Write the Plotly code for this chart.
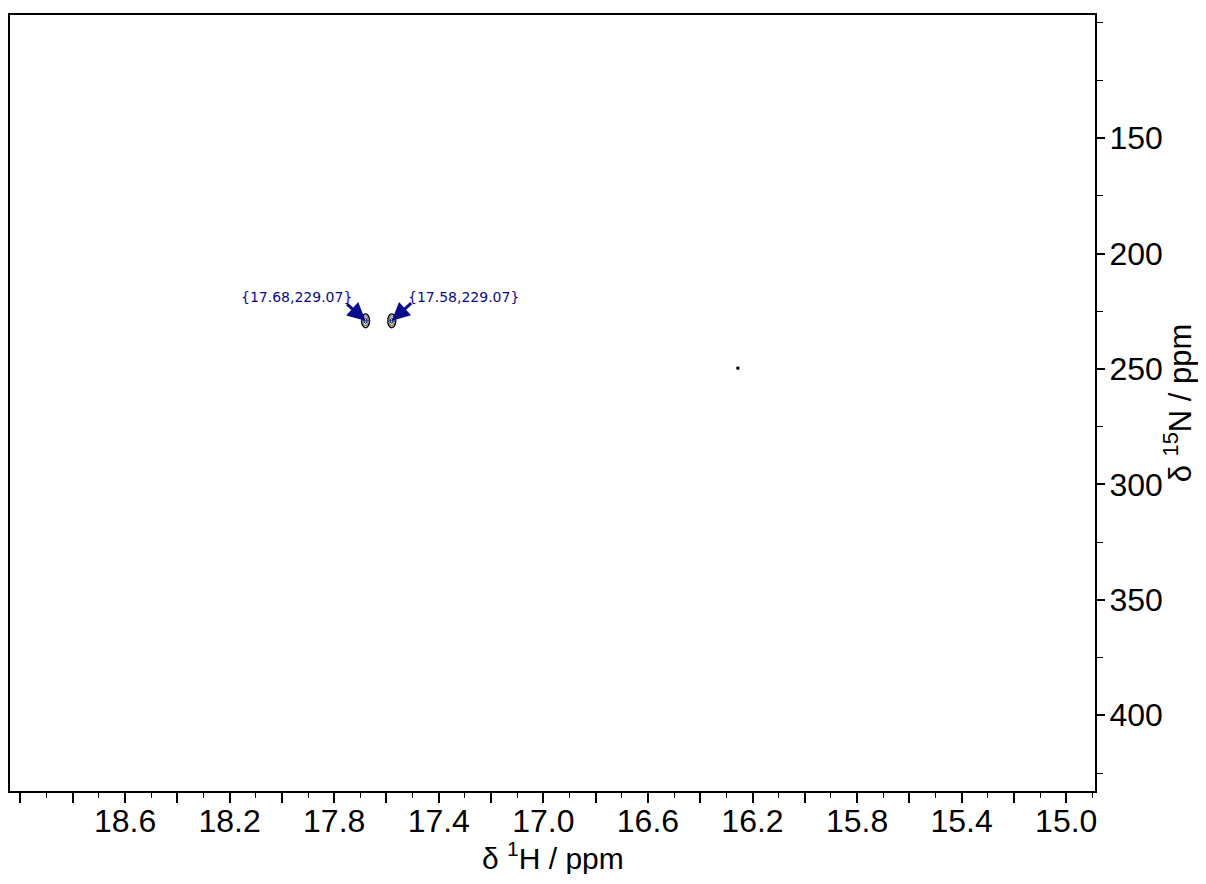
import plotly.graph_objects as go

# Peak data (1H ppm, 15N ppm)
peak_h = [17.68, 17.58]
peak_n = [229.07, 229.07]
label_side = ["left", "right"]

# isolated noise point
dot_h = [16.256]
dot_n = [249.6]

# axis ticks
x_major = [19.0, 18.8, 18.6, 18.4, 18.2, 18.0, 17.8, 17.6, 17.4, 17.2, 17.0,
           16.8, 16.6, 16.4, 16.2, 16.0, 15.8, 15.6, 15.4, 15.2, 15.0]
x_labels = ["", "", "18.6", "", "18.2", "", "17.8", "", "17.4", "", "17.0",
            "", "16.6", "", "16.2", "", "15.8", "", "15.4", "", "15.0"]
y_major = [150, 200, 250, 300, 350, 400]
y_labels = ["150", "200", "250", "300", "350", "400"]
x_title = "δ <sup>1</sup>H / ppm"
y_title = "δ <sup>15</sup>N / ppm"

X_RANGE = [19.04, 14.89]
Y_RANGE = [432.8, 96.6]

TICK_FONT = dict(family="Liberation Sans, Arial, sans-serif", size=32, color="black")
TITLE_FONT = dict(family="Liberation Sans, Arial, sans-serif", size=30, color="black")
NAVY = "#0a0a8c"

fig = go.Figure()

# contour-like rings for each peak (half-widths in ppm; style constants)
rings = [
    (0.015, 3.0, "black", 1.4, "rgba(255,255,255,0)"),
    (0.010, 2.1, "#777777", 1.2, "rgba(220,220,220,0.5)"),
    (0.005, 1.1, "black", 1.0, "rgba(0,0,0,0)"),
]
for h, n in zip(peak_h, peak_n):
    for dx, dy, col, w, fill in rings:
        fig.add_shape(type="circle", xref="x", yref="y",
                      x0=h - dx, x1=h + dx, y0=n - dy, y1=n + dy,
                      line=dict(color=col, width=w), fillcolor=fill, layer="above")
    fig.add_shape(type="line", xref="x", yref="y",
                  x0=h - 0.018, x1=h + 0.018, y0=n, y1=n,
                  line=dict(color="#1f3fbf", width=1), layer="above")

fig.add_trace(go.Scatter(x=peak_h, y=peak_n, mode="markers",
                         marker=dict(size=1, color="rgba(0,0,0,0)"),
                         hoverinfo="x+y", showlegend=False))
fig.add_trace(go.Scatter(x=dot_h, y=dot_n, mode="markers",
                         marker=dict(size=3, color="black", symbol="square"),
                         showlegend=False))

for h, n, side in zip(peak_h, peak_n, label_side):
    txt = "{%.2f,%.2f}" % (h, n)
    if side == "left":
        fig.add_annotation(x=h, y=n, xref="x", yref="y", text=txt, showarrow=False,
                           xanchor="right", yanchor="middle", xshift=-12, yshift=24,
                           font=dict(family="DejaVu Sans", size=14, color=NAVY))
        fig.add_annotation(x=h, y=n, xref="x", yref="y", text="", showarrow=True,
                           ax=-20, ay=-18, arrowcolor=NAVY, arrowwidth=3,
                           arrowhead=2, arrowsize=1.2)
    else:
        fig.add_annotation(x=h, y=n, xref="x", yref="y", text=txt, showarrow=False,
                           xanchor="left", yanchor="middle", xshift=14, yshift=24,
                           font=dict(family="DejaVu Sans", size=14, color=NAVY))
        fig.add_annotation(x=h, y=n, xref="x", yref="y", text="", showarrow=True,
                           ax=21, ay=-19, arrowcolor=NAVY, arrowwidth=3,
                           arrowhead=2, arrowsize=1.2)

# x-axis title as an annotation below the tick labels
fig.add_annotation(x=0.5, y=0, xref="paper", yref="paper", text=x_title,
                   showarrow=False, xanchor="center", yanchor="middle", yshift=-65,
                   font=TITLE_FONT)

fig.update_layout(
    width=1190, height=866,
    margin=dict(l=2, r=103, t=7, b=83),
    paper_bgcolor="white", plot_bgcolor="white",
    showlegend=False,
    xaxis=dict(
        range=X_RANGE, showgrid=False, zeroline=False, automargin=False,
        showline=True, linecolor="black", linewidth=2, mirror=True,
        tickmode="array", tickvals=x_major, ticktext=x_labels,
        ticks="outside", ticklen=10, tickwidth=1.5, tickcolor="black",
        ticklabelstandoff=-9,
        minor=dict(dtick=0.1, tick0=15.0, ticks="outside", ticklen=5,
                   tickwidth=1.2, tickcolor="black", showgrid=False),
        tickfont=TICK_FONT,
    ),
    yaxis=dict(
        range=Y_RANGE, side="right", showgrid=False, zeroline=False, automargin=False,
        showline=True, linecolor="black", linewidth=2, mirror=True,
        tickmode="array", tickvals=y_major, ticktext=y_labels,
        ticks="outside", ticklen=8, tickwidth=1.5, tickcolor="black",
        ticklabelstandoff=-2,
        minor=dict(dtick=25, tick0=0, ticks="outside", ticklen=6,
                   tickwidth=1.2, tickcolor="black", showgrid=False),
        tickfont=TICK_FONT,
        title=dict(text=y_title, standoff=8,
                   font=dict(family="Liberation Sans, Arial, sans-serif", size=31, color="black")),
    ),
)

fig.write_html("out.html")
